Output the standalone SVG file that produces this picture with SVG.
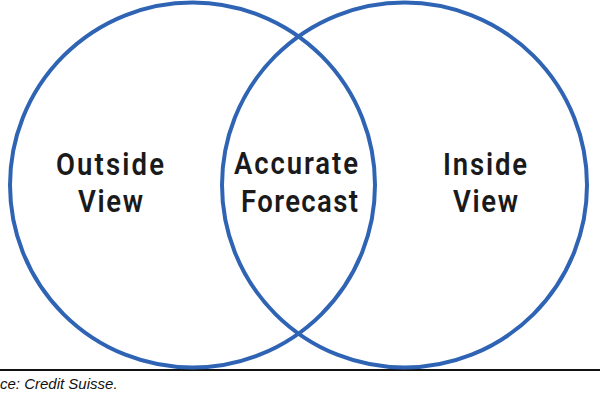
<svg xmlns="http://www.w3.org/2000/svg" width="600" height="400" viewBox="0 0 600 400">
<style>
.c{fill:none;stroke:#2f64b4;stroke-width:4}
.t{font-family:Roboto,"Liberation Sans",sans-serif;font-weight:600;font-size:32px;fill:#1a1a1a;text-anchor:middle}
.s{font-family:"Liberation Sans",Arial,sans-serif;font-style:italic;font-size:15px;fill:#111}
</style>
<rect width="600" height="400" fill="#fff"/>
<line x1="0" y1="370" x2="600" y2="370" stroke="#111" stroke-width="2"/>
<g id="outside">
<circle class="c" cx="192.5" cy="185" r="182.5"/>
<g transform="translate(110,0) scale(0.86,1)">
<text class="t" x="0" y="175" textLength="125.6" lengthAdjust="spacing">Outside</text>
<text class="t" x="0.6" y="212" textLength="75.6" lengthAdjust="spacing">View</text>
</g>
</g>
<g id="inside">
<circle class="c" cx="404.5" cy="185" r="182.5"/>
<g transform="translate(485,0) scale(0.86,1)">
<text class="t" x="0" y="175" textLength="97.7" lengthAdjust="spacing">Inside</text>
<text class="t" x="0.6" y="212" textLength="75.6" lengthAdjust="spacing">View</text>
</g>
</g>
<g id="accurate">
<g transform="translate(296,0) scale(0.86,1)">
<text class="t" x="0" y="174" textLength="144.2" lengthAdjust="spacing">Accurate</text>
<text class="t" x="4.1" y="212" textLength="136" lengthAdjust="spacing">Forecast</text>
</g>
</g>
<text class="s" x="0" y="389">ce: Credit Suisse.</text>
</svg>
